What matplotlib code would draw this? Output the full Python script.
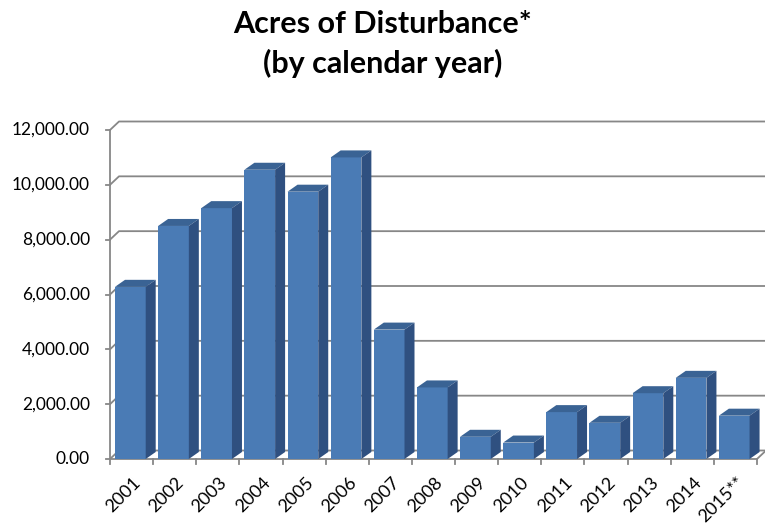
import matplotlib
matplotlib.use("Agg")
import matplotlib.pyplot as plt
from matplotlib.patches import Polygon

years = ["2001", "2002", "2003", "2004", "2005", "2006", "2007", "2008",
         "2009", "2010", "2011", "2012", "2013", "2014", "2015**"]
acres = [6280, 8500, 9150, 10550, 9750, 11000, 4720, 2610,
         810, 600, 1710, 1320, 2400, 2960, 1580]
yticks = [0, 2000, 4000, 6000, 8000, 10000, 12000]
ytick_labels = ["0.00", "2,000.00", "4,000.00", "6,000.00", "8,000.00",
                "10,000.00", "12,000.00"]
title_lines = ["Acres of Disturbance*", "(by calendar year)"]

W, H, DPI = 765, 528, 100
fig = plt.figure(figsize=(W / DPI, H / DPI), dpi=DPI)
plt.rcParams['font.family'] = ['Lato', 'DejaVu Sans']

# axes geometry in pixels
ax_l, ax_r, ax_b, ax_t = 110, 757, 459, 130
ax = fig.add_axes([ax_l / W, (H - ax_b) / H, (ax_r - ax_l) / W, (ax_b - ax_t) / H])
n = len(years)
ax.set_xlim(-0.5, n - 0.5)
ax.set_ylim(0, 12000)
ax.axis('off')

pxx = (ax_r - ax_l) / n           # px per category
pxy = (ax_b - ax_t) / 12000.0     # px per value unit

# wall depth
wdx, wdy = 9 / pxx, 8.5 / pxy
# bar depth
bdx, bdy = 10 / pxx, 7 / pxy

grid_c = '#878787'
lw = 1.3
x0, x1 = -0.5, n - 0.5

# gridlines along left wall + back wall
for v, lab in zip(yticks, ytick_labels):
    ax.plot([x0, x0 + wdx, x1 + wdx], [v, v + wdy, v + wdy], color=grid_c,
            lw=lw, clip_on=False, zorder=1, solid_capstyle='butt')
    ax.plot([x0 - 4 / pxx, x0], [v, v], color=grid_c, lw=lw, clip_on=False, zorder=1)
    ax.text(x0 - 20 / pxx, v, lab, ha='right', va='center',
            fontsize=12.5, color='#000000')
# front axis lines
ax.plot([x0, x0], [0, 12000], color=grid_c, lw=lw, clip_on=False, zorder=1)
ax.plot([x0, x1, x1 + wdx], [0, 0, wdy], color=grid_c, lw=lw, clip_on=False, zorder=1)
for k in range(n + 1):
    ax.plot([x0 + k, x0 + k], [0, -5 / pxy], color=grid_c, lw=lw, clip_on=False, zorder=1)

front_c = '#4A7BB5'
top_c = '#3A6394'
side_c = '#2F5080'
bw = 30.7 / pxx
boff = 5 / pxx
for i, v in enumerate(acres):
    l = i - 0.5 + boff
    r = l + bw
    ax.add_patch(Polygon([(l, 0), (r, 0), (r, v), (l, v)], closed=True,
                         facecolor=front_c, edgecolor='none', zorder=3, clip_on=False))
    ax.add_patch(Polygon([(l, v), (r, v), (r + bdx, v + bdy), (l + bdx, v + bdy)],
                         closed=True, facecolor=top_c, edgecolor='none', zorder=3,
                         clip_on=False))
    ax.add_patch(Polygon([(r, 0), (r + bdx, bdy), (r + bdx, v + bdy), (r, v)],
                         closed=True, facecolor=side_c, edgecolor='none', zorder=3,
                         clip_on=False))
    ax.text(i + 1 / pxx, -15 / pxy, years[i], rotation=45, ha='right', va='top',
            rotation_mode='anchor', fontsize=13, color='#000000')

fig.text(383 / W, 1 - 24 / H, title_lines[0], ha='center', va='center',
         fontsize=22, fontweight='bold')
fig.text(383 / W, 1 - 63 / H, title_lines[1], ha='center', va='center',
         fontsize=22, fontweight='bold')

fig.savefig('out.png', dpi=DPI)
